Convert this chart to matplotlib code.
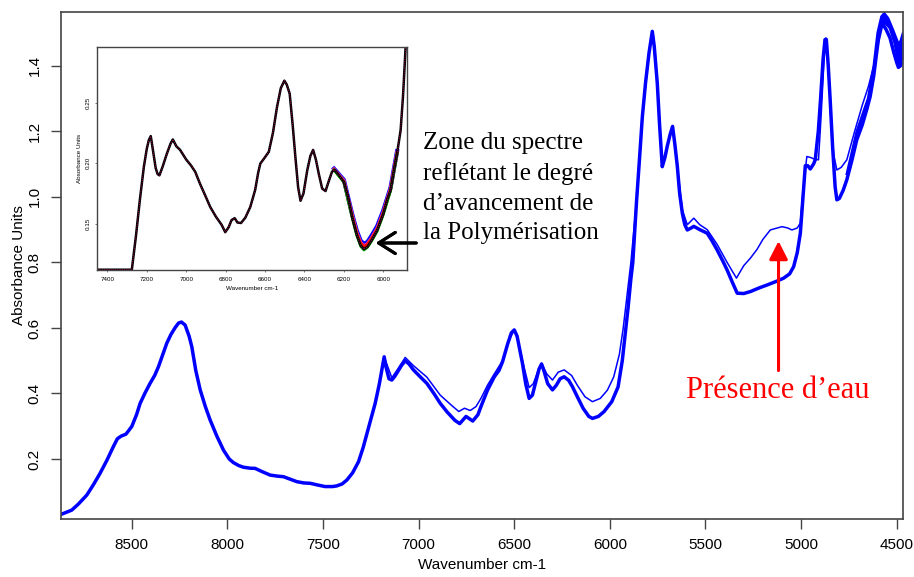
import matplotlib
matplotlib.use("Agg")
import matplotlib.pyplot as plt

# NIR spectra: absorbance vs wavenumber (cm-1)
# main bundle of spectra (drawn as one thick trace)
wn_main = [8870, 8840, 8814, 8780, 8735, 8700, 8666, 8630, 8596, 8575, 8555, 8530,
           8500, 8475, 8456, 8430, 8404, 8380, 8360, 8340, 8317, 8295, 8273, 8255,
           8240, 8221, 8200, 8186, 8165, 8142, 8115, 8090, 8055, 8020, 7990, 7968,
           7940, 7916, 7880, 7855, 7820, 7776, 7740, 7706, 7670, 7637, 7600, 7567,
           7530, 7489, 7450, 7428, 7400, 7375, 7345, 7314, 7290, 7270, 7250, 7227,
           7205, 7190, 7180, 7170, 7155, 7140, 7125, 7114, 7090, 7070, 7050, 7027,
           6990, 6957, 6920, 6887, 6850, 6810, 6785, 6752, 6717, 6690, 6674, 6640,
           6604, 6580, 6561, 6535, 6515, 6500, 6485, 6470, 6457, 6440, 6422, 6405,
           6385, 6370, 6357, 6345, 6325, 6300, 6280, 6260, 6239, 6215, 6195, 6170,
           6140, 6110, 6091, 6060, 6030, 5990, 5957, 5935, 5920, 5905, 5890, 5880,
           5860, 5848, 5830, 5813, 5795, 5778, 5768, 5752, 5740, 5726, 5712, 5700,
           5685, 5672, 5660, 5647, 5635, 5621, 5608, 5595, 5575, 5561, 5530, 5491,
           5465, 5439, 5410, 5387, 5360, 5334, 5300, 5265, 5220, 5178, 5130, 5091,
           5060, 5039, 5020, 5004, 4990, 4978, 4965, 4952, 4935, 4926, 4910, 4898,
           4885, 4875, 4868, 4858, 4848, 4835, 4822, 4813, 4800, 4780, 4761, 4735,
           4709, 4680, 4655, 4639, 4620, 4605, 4596, 4580, 4570, 4555, 4535, 4515,
           4500, 4491, 4480, 4467]
abs_main = [0.031, 0.038, 0.044, 0.062, 0.090, 0.122, 0.156, 0.196, 0.238, 0.262, 0.270, 0.276,
            0.299, 0.335, 0.370, 0.402, 0.431, 0.455, 0.482, 0.515, 0.553, 0.580, 0.601, 0.615,
            0.618, 0.609, 0.575, 0.543, 0.470, 0.411, 0.360, 0.319, 0.270, 0.227, 0.200, 0.189,
            0.180, 0.175, 0.172, 0.1715, 0.162, 0.151, 0.148, 0.146, 0.138, 0.131, 0.127, 0.126,
            0.121, 0.116, 0.116, 0.118, 0.124, 0.136, 0.158, 0.192, 0.235, 0.278, 0.322, 0.370,
            0.430, 0.480, 0.512, 0.480, 0.445, 0.441, 0.452, 0.462, 0.485, 0.500, 0.490, 0.472,
            0.450, 0.431, 0.400, 0.370, 0.343, 0.318, 0.308, 0.330, 0.316, 0.335, 0.360, 0.410,
            0.451, 0.470, 0.497, 0.550, 0.585, 0.594, 0.575, 0.530, 0.492, 0.430, 0.385, 0.395,
            0.440, 0.475, 0.490, 0.470, 0.430, 0.411, 0.425, 0.445, 0.451, 0.440, 0.420, 0.390,
            0.355, 0.330, 0.324, 0.330, 0.345, 0.375, 0.420, 0.500, 0.580, 0.660, 0.750, 0.800,
            0.990, 1.090, 1.245, 1.350, 1.440, 1.505, 1.460, 1.347, 1.220, 1.092, 1.120, 1.154,
            1.190, 1.215, 1.160, 1.092, 1.010, 0.950, 0.915, 0.899, 0.905, 0.910, 0.900, 0.889,
            0.865, 0.838, 0.805, 0.777, 0.740, 0.706, 0.705, 0.711, 0.722, 0.731, 0.742, 0.752,
            0.765, 0.787, 0.830, 0.889, 1.000, 1.095, 1.095, 1.085, 1.100, 1.113, 1.200, 1.300,
            1.420, 1.480, 1.480, 1.400, 1.296, 1.150, 1.030, 0.991, 0.995, 1.020, 1.052, 1.110,
            1.174, 1.220, 1.270, 1.306, 1.370, 1.440, 1.479, 1.520, 1.525, 1.510, 1.485, 1.440,
            1.410, 1.395, 1.400, 1.420]

# upper and lower edges of the bundle at the high-wavenumber end
wn_high = [4761, 4709, 4650, 4620, 4600, 4580, 4565, 4545, 4520, 4500, 4490, 4480, 4467]
abs_high = [1.070, 1.200, 1.300, 1.400, 1.500, 1.550, 1.560, 1.545, 1.510, 1.480, 1.465, 1.475, 1.500]
abs_high_low = [1.052, 1.174, 1.280, 1.370, 1.455, 1.520, 1.528, 1.515, 1.470, 1.410, 1.398, 1.405, 1.420]

# spectrum of the sample containing water
wn_water = [7180, 7140, 7114, 7070, 7027, 6957, 6887, 6830, 6790, 6760, 6730, 6700,
            6674, 6640, 6604, 6561, 6530, 6500, 6480, 6457, 6422, 6400, 6375, 6357,
            6330, 6300, 6270, 6239, 6200, 6170, 6130, 6091, 6050, 6013, 5980, 5950,
            5930, 5910, 5890, 5860, 5830, 5795, 5778, 5752, 5726, 5700, 5672, 5647,
            5621, 5595, 5561, 5530, 5491, 5439, 5387, 5338, 5300, 5265, 5230, 5200,
            5161, 5100, 5070, 5048, 5020, 5004, 4990, 4970, 4950, 4930, 4909, 4895,
            4880, 4870, 4858, 4845, 4830, 4813, 4790, 4761, 4720, 4680, 4648, 4620,
            4600, 4580, 4560, 4535, 4510, 4490, 4467]
abs_water = [0.512, 0.448, 0.470, 0.510, 0.485, 0.450, 0.395, 0.365, 0.345, 0.355, 0.348, 0.360,
             0.385, 0.425, 0.460, 0.500, 0.560, 0.594, 0.560, 0.500, 0.418, 0.430, 0.470, 0.492,
             0.460, 0.441, 0.465, 0.472, 0.455, 0.425, 0.390, 0.375, 0.385, 0.410, 0.450, 0.520,
             0.600, 0.700, 0.800, 0.990, 1.245, 1.440, 1.505, 1.347, 1.092, 1.154, 1.215, 1.092,
             0.960, 0.915, 0.935, 0.915, 0.900, 0.855, 0.800, 0.752, 0.790, 0.813, 0.840, 0.870,
             0.899, 0.909, 0.905, 0.899, 0.905, 0.920, 1.020, 1.123, 1.120, 1.115, 1.113, 1.250,
             1.420, 1.485, 1.400, 1.250, 1.130, 1.082, 1.090, 1.113, 1.200, 1.280, 1.337, 1.400,
             1.480, 1.530, 1.540, 1.520, 1.480, 1.455, 1.470]

# zoomed region 7450-5880 cm-1 (inset)
wn_zoom = [7450, 7400, 7350, 7300, 7276, 7255, 7235, 7215, 7200, 7190, 7180, 7170,
           7155, 7145, 7136, 7120, 7100, 7080, 7068, 7050, 7031, 7000, 6975, 6954,
           6930, 6900, 6878, 6850, 6820, 6802, 6785, 6770, 6754, 6740, 6722, 6700,
           6675, 6650, 6635, 6624, 6600, 6581, 6560, 6539, 6520, 6502, 6490, 6475,
           6460, 6446, 6432, 6420, 6405, 6386, 6370, 6356, 6342, 6327, 6310, 6293,
           6275, 6260, 6247, 6225, 6200, 6180, 6158, 6135, 6115, 6098, 6080, 6060,
           6031, 6000, 5980, 5963, 5945, 5930, 5912, 5900, 5886]
abs_zoom = [0.112, 0.112, 0.112, 0.112, 0.112, 0.140, 0.170, 0.197, 0.212, 0.219, 0.2224, 0.212,
            0.196, 0.191, 0.190, 0.197, 0.207, 0.216, 0.2196, 0.214, 0.211, 0.203, 0.198, 0.1928,
            0.183, 0.172, 0.1638, 0.156, 0.149, 0.143, 0.147, 0.153, 0.1546, 0.151, 0.1506, 0.155,
            0.1638, 0.178, 0.192, 0.1997, 0.205, 0.2094, 0.225, 0.2467, 0.262, 0.2682, 0.265, 0.2575,
            0.232, 0.205, 0.180, 0.169, 0.175, 0.194, 0.206, 0.211, 0.203, 0.191, 0.179, 0.177,
            0.186, 0.193, 0.1945, 0.190, 0.1845, 0.173, 0.1555, 0.141, 0.132, 0.129, 0.131, 0.136,
            0.1445, 0.158, 0.170, 0.1776, 0.195, 0.208, 0.2273, 0.255, 0.2978]

# individual spectra around the 6100 cm-1 minimum
wn_min = [6250, 6200, 6158, 6135, 6115, 6098, 6080, 6060, 6031, 6000, 5963, 5930]
abs_min_blue = [0.1955, 0.1862, 0.1580, 0.1445, 0.1360, 0.1334, 0.1350, 0.1400, 0.1480, 0.1610, 0.1800, 0.2100]
abs_min_pink = [0.1950, 0.1855, 0.1570, 0.1430, 0.1345, 0.1315, 0.1335, 0.1380, 0.1460, 0.1595, 0.1790, 0.2090]
abs_min_red = [0.1948, 0.1850, 0.1565, 0.1425, 0.1340, 0.1310, 0.1330, 0.1375, 0.1455, 0.1590, 0.1785, 0.2085]
abs_min_green = [0.1943, 0.1843, 0.1550, 0.1405, 0.1315, 0.1283, 0.1305, 0.1355, 0.1438, 0.1575, 0.1772, 0.2078]

main_xticks = [8500, 8000, 7500, 7000, 6500, 6000, 5500, 5000, 4500]
main_yticks = [0.2, 0.4, 0.6, 0.8, 1.0, 1.2, 1.4]
zoom_xticks = [7400, 7200, 7000, 6800, 6600, 6400, 6200, 6000]
zoom_yticks = [0.15, 0.20, 0.25]

sans = "Liberation Sans"
serif = "Liberation Serif"
frame_col = "#444444"

fig = plt.figure(figsize=(9.14, 5.77), dpi=100)

# main plot
ax = fig.add_axes([0.0667, 0.1005, 0.9213, 0.8787])
ax.plot(wn_main, abs_main, color="#0000ff", lw=2.5, solid_joinstyle="round")
ax.plot(wn_high, abs_high, color="#0000ff", lw=1.8)
ax.fill_between(wn_high, abs_high, abs_high_low, color="#0000ff", lw=0)
ax.plot(wn_water, abs_water, color="#0000ff", lw=1.1)
ax.set_xlim(8870, 4467)
ax.set_ylim(0.017, 1.564)
ax.set_xticks(main_xticks)
ax.set_xticklabels([str(t) for t in main_xticks], fontfamily=sans, fontsize=11)
ax.set_yticks(main_yticks)
ax.set_yticklabels(["%.1f" % t for t in main_yticks], fontfamily=sans, fontsize=11,
                   rotation=90, va="center")
ax.tick_params(direction="out", length=7, width=1, color=frame_col, pad=7)
for s in ax.spines.values():
    s.set_color(frame_col)
    s.set_linewidth(1.2)
ax.set_xlabel("Wavenumber cm-1", fontfamily=sans, fontsize=11, labelpad=4)
ax.set_ylabel("Absorbance Units", fontfamily=sans, fontsize=11, labelpad=1)

# inset with the zoomed polymerisation band
ins = fig.add_axes([0.1065, 0.5315, 0.3385, 0.387])
ins.plot(wn_min, abs_min_blue, color="#0000ff", lw=3.0)
ins.plot(wn_min, abs_min_pink, color="#ff3399", lw=2.5)
ins.plot(wn_min, abs_min_red, color="#ff0000", lw=2.0)
ins.plot(wn_min, abs_min_green, color="#00aa00", lw=2.0)
ins.plot(wn_zoom, abs_zoom, color="#000000", lw=1.8)
ins.plot(wn_zoom, abs_zoom, color="#cc0066", lw=0.6, ls=":")
ins.set_xlim(7451, 5881)
ins.set_ylim(0.1115, 0.296)
ins.set_xticks(zoom_xticks)
ins.set_xticklabels([str(t) for t in zoom_xticks], fontfamily=sans, fontsize=4.5)
ins.set_yticks(zoom_yticks)
ins.set_yticklabels(["%.2f" % t for t in zoom_yticks], fontfamily=sans, fontsize=4.5,
                    rotation=90, va="center")
ins.tick_params(direction="out", length=1.5, width=0.5, color=frame_col, pad=3)
for s in ins.spines.values():
    s.set_color(frame_col)
    s.set_linewidth(1.0)
ins.set_xlabel("Wavenumber cm-1", fontfamily=sans, fontsize=4.5, labelpad=3)
ins.set_ylabel("Absorbance Units", fontfamily=sans, fontsize=4.5, labelpad=3)

# annotations
fig.text(423 / 914, 1 - 188 / 577,
         "Zone du spectre\nreflétant le degré\nd’avancement de\nla Polymérisation",
         fontfamily=serif, fontsize=18, ha="left", va="center", linespacing=1.45)
fig.add_artist(plt.annotate("", xy=(373 / 914, 1 - 243 / 577), xycoords="figure fraction",
                            xytext=(419 / 914, 1 - 243 / 577), textcoords="figure fraction",
                            arrowprops=dict(arrowstyle="->,head_length=0.6,head_width=0.38",
                                            mutation_scale=20, lw=2.2, color="black")))

ax.annotate("", xy=(5118, 0.865), xytext=(5118, 0.47),
            arrowprops=dict(arrowstyle="-|>,head_length=0.55,head_width=0.28",
                            mutation_scale=20, lw=2.2, color="#ff0000",
                            shrinkA=0, shrinkB=0))
ax.text(5123, 0.41, "Présence d’eau", color="#ff0000", fontfamily=serif,
        fontsize=22, ha="center", va="center")

plt.savefig("out.png", dpi=100)
